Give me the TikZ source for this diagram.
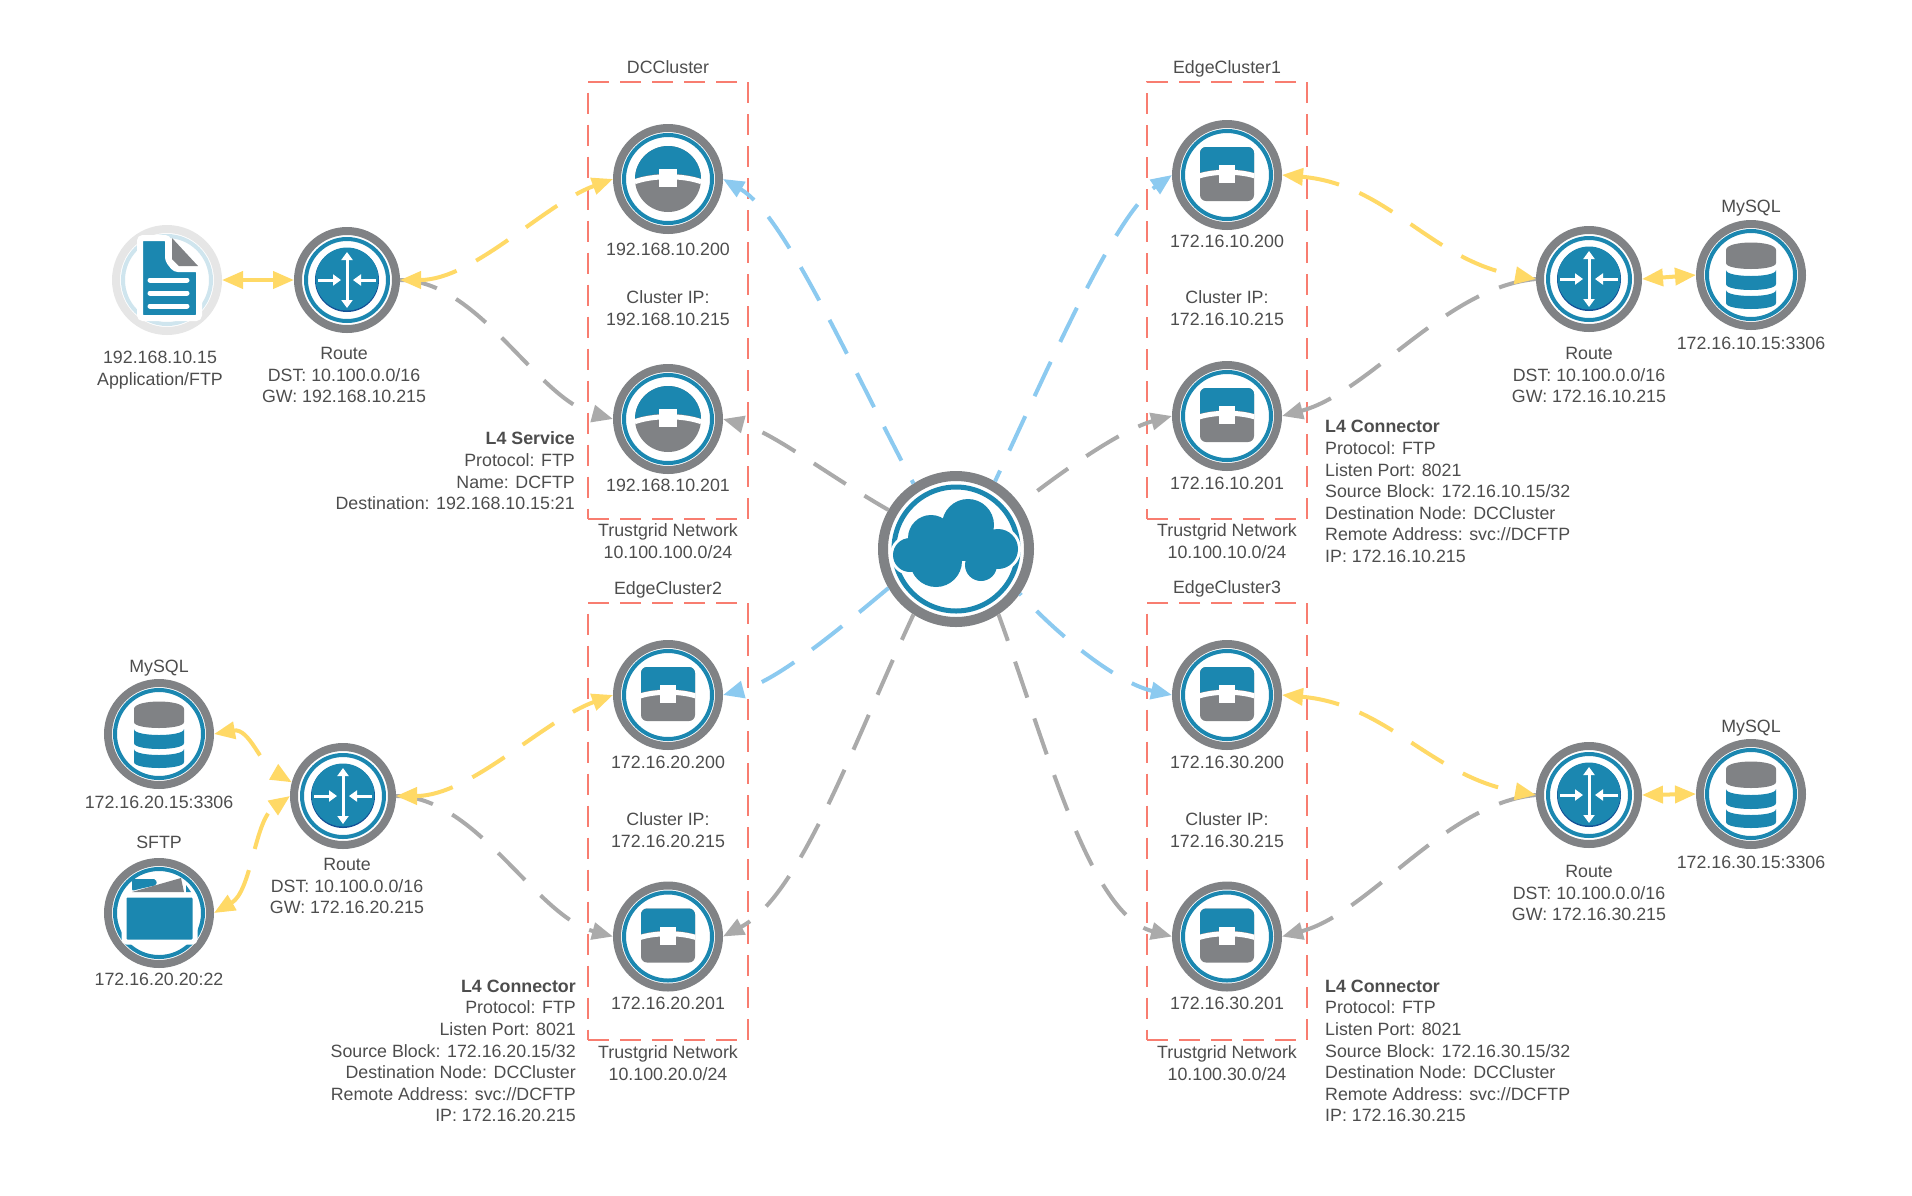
\documentclass[tikz,border=0pt]{standalone}
\usepackage{fontspec}
\setmainfont{Liberation Sans}
\usetikzlibrary{arrows.meta,positioning}
\definecolor{meshTeal}{RGB}{27, 135, 176}
\definecolor{meshNavy}{RGB}{20, 80, 150}
\definecolor{meshRing}{RGB}{128, 130, 133}
\definecolor{meshPale}{RGB}{207, 229, 238}
\definecolor{meshHalo}{RGB}{230, 230, 230}
\definecolor{meshSalmon}{RGB}{248, 125, 112}
\definecolor{meshYellow}{RGB}{255, 217, 102}
\definecolor{meshBlue}{RGB}{140, 202, 240}
\definecolor{meshGrey}{RGB}{170, 170, 170}
\definecolor{meshText}{RGB}{77, 77, 77}
\tikzset{
  dcface/.pic={
    \draw[meshTeal,line width=4pt] (0,0) circle[radius=44];
    \begin{scope}
      \clip (0,0) circle[radius=33];
      \fill[meshRing] (-34,-34) rectangle (34,34);
      \fill[meshTeal] (-34,0) .. controls (-15,-7) and (15,-7) .. (34,0) -- (34,-40) -- (-34,-40) -- cycle;
      \draw[white,line width=5pt] (-34,3) .. controls (-15,-4) and (15,-4) .. (34,3);
    \end{scope}
    \fill[white] (-9,-10) rectangle (9,8);
  },
  edgeface/.pic={
    \draw[meshTeal,line width=4pt] (0,0) circle[radius=44];
    \begin{scope}
      \clip[rounded corners=6pt] (-27,-28) rectangle (27,26);
      \fill[meshRing] (-34,-34) rectangle (34,34);
      \fill[meshTeal] (-28,-2) .. controls (-12,-7) and (12,-7) .. (28,-2) -- (28,-40) -- (-28,-40) -- cycle;
      \draw[white,line width=5pt] (-28,1) .. controls (-12,-4) and (12,-4) .. (28,1);
    \end{scope}
    \fill[white] (-8,-10) rectangle (8,8);
  },
  routeface/.pic={
    \draw[meshTeal,line width=4pt] (0,0) circle[radius=41];
    \fill[meshNavy] (0,0) circle[radius=32];
    \fill[meshTeal] (0,-1) circle[radius=31.5];
    \draw[white,line width=3pt,{Triangle[length=8pt,width=11pt]}-{Triangle[length=8pt,width=11pt]}] (0,-28) -- (0,28);
    \draw[white,line width=3pt,-{Triangle[length=8pt,width=11pt]}] (-29,0) -- (-6,0);
    \draw[white,line width=3pt,-{Triangle[length=8pt,width=11pt]}] (29,0) -- (6,0);
  },
  dbface/.pic={
    \draw[meshTeal,line width=4pt] (0,0) circle[radius=44];
    \fill[meshRing] (-25,-25) .. controls (-25,-35) and (25,-35) .. (25,-25) -- (25,-12) .. controls (25,-4) and (-25,-4) .. (-25,-12) -- cycle;
    \fill[meshTeal] (-25,-5) .. controls (-25,3) and (25,3) .. (25,-5) -- (25,9) .. controls (25,17) and (-25,17) .. (-25,9) -- cycle;
    \fill[meshTeal] (-25,15) .. controls (-25,23) and (25,23) .. (25,15) -- (25,28) .. controls (25,36) and (-25,36) .. (-25,28) -- cycle;
  },
  docface/.pic={
    \draw[meshPale,line width=4pt] (0,0) circle[radius=44];
    \path[draw=white,line width=6pt,fill=meshTeal,rounded corners=3pt] (-27,-42) -- (1,-42) -- (1,-20) -- (8,-11) -- (32,-11) -- (32,38) -- (-27,38) -- cycle;
    \fill[meshRing] (5,-42) -- (31,-14) -- (12,-14) -- (5,-21) -- cycle;
    \draw[white,line width=5pt,line cap=round] (-17,0) -- (20,0) (-17,13) -- (20,13) (-17,26) -- (20,26);
  },
  folderface/.pic={
    \draw[meshTeal,line width=4pt] (0,0) circle[radius=44];
    \path[draw=white,line width=5pt,fill=meshTeal,rounded corners=3pt] (-35,-18) -- (36,-18) -- (36,29) -- (-35,29) -- cycle;
    \fill[meshTeal,rounded corners=2pt] (-27,-34) -- (-3,-34) -- (-2,-28) -- (-20,-24) -- (-27,-22) -- cycle;
    \fill[meshRing] (-27,-21) -- (22,-35) -- (25,-21) -- cycle;
    \fill[meshTeal] (27,-28) -- (32,-21) -- (27,-21) -- cycle;
  },
  cloudface/.pic={
    \draw[meshTeal,line width=5pt] (0,0) circle[radius=62];
    \draw[white,line width=6pt] (12,-24) circle[radius=26] (-25,-11) circle[radius=23] (-46,6) circle[radius=17] (42,0) circle[radius=20] (-20,12) circle[radius=26] (25,16) circle[radius=16];
    \fill[meshTeal] (12,-24) circle[radius=26];
    \fill[meshTeal] (-25,-11) circle[radius=23];
    \fill[meshTeal] (-46,6) circle[radius=17];
    \fill[meshTeal] (42,0) circle[radius=20];
    \fill[meshTeal] (-20,12) circle[radius=26];
    \fill[meshTeal] (25,16) circle[radius=16];
    \fill[meshTeal] (-30,-10) rectangle (35,12);
  }
}

\begin{document}
\begin{tikzpicture}[
  x=1pt,y=-1pt,
  on grid,
  bignode/.style={
    circle,
    draw=meshRing,
    fill=white,
    line width=8pt,
    minimum size=102pt,
    inner sep=0pt
  },
  routernode/.style={bignode,minimum size=98pt},
  clusterbox/.style={
    draw=meshSalmon,
    line width=2pt,
    dash pattern=on 21pt off 11pt,
    minimum width=160pt,
    minimum height=437pt
  },
  caption/.style={
    align=center,
    inner sep=0pt,
    text=meshText,
    font=\fontsize{17.8}{21.6}\selectfont
  },
  notetext/.style={caption,align=left,anchor=west},
  noteright/.style={caption,align=right,anchor=east},
  tipone/.style={-{Triangle[length=21pt,width=17pt]},line width=4pt,dash pattern=on 38pt off 22pt},
  tiptwo/.style={{Triangle[length=21pt,width=17pt]}-{Triangle[length=21pt,width=17pt]},line width=4pt,dash pattern=on 38pt off 22pt},
  yellowlink/.style={tiptwo,meshYellow},
  bluelink/.style={tipone,meshBlue},
  greylink/.style={tipone,meshGrey}
]
  \useasboundingbox (0,0) rectangle (1912,1195);

  \node[bignode,line width=10pt,minimum size=146pt] (cloud) at (956,549) {};
  \node[bignode,above left=370pt and 288pt of cloud] (dcA) {};
  \node[bignode,below=240pt of dcA] (dcB) {};
  \node[bignode,above right=374pt and 271pt of cloud] (ecA) {};
  \node[bignode,below=241pt of ecA] (ecB) {};
  \node[bignode,below left=146pt and 288pt of cloud] (egA) {};
  \node[bignode,below=241.5pt of egA] (egB) {};
  \node[bignode,below right=146pt and 271pt of cloud] (ehA) {};
  \node[bignode,below=241.5pt of ehA] (ehB) {};
  \node[routernode,below left=101pt and 321pt of dcA] (rtA) {};
  \node[bignode,draw=meshHalo,left=180pt of rtA] (appA) {};
  \node[routernode,below right=104pt and 362pt of ecA] (rtB) {};
  \node[bignode,above right=4pt and 162pt of rtB] (dbB) {};
  \node[routernode,below right=100pt and 362pt of ehA] (rtC) {};
  \node[bignode,above right=1pt and 162pt of rtC] (dbC) {};
  \node[routernode,below left=101pt and 325pt of egA] (rtD) {};
  \node[bignode,above left=62pt and 184pt of rtD] (dbD) {};
  \node[bignode,below left=117pt and 184pt of rtD] (ftD) {};

  \pic at (cloud) {cloudface};
  \pic at (dcA) {dcface};
  \pic at (dcB) {dcface};
  \pic at (ecA) {edgeface};
  \pic at (ecB) {edgeface};
  \pic at (egA) {edgeface};
  \pic at (egB) {edgeface};
  \pic at (ehA) {edgeface};
  \pic at (ehB) {edgeface};
  \pic at (rtA) {routeface};
  \pic at (rtB) {routeface};
  \pic at (rtC) {routeface};
  \pic at (rtD) {routeface};
  \pic at (appA) {docface};
  \pic at (dbB) {dbface};
  \pic at (dbC) {dbface};
  \pic at (dbD) {dbface};
  \pic at (ftD) {folderface};

  \node[clusterbox,below=121pt of dcA] (dcBox) {};
  \node[clusterbox,below=125.5pt of ecA] (ecBox) {};
  \node[clusterbox,below=126pt of egA] (egBox) {};
  \node[clusterbox,below=126pt of ehA] (ehBox) {};

  \draw[bluelink,dash phase=34pt] (cloud.123) to[out=118,in=-30,in looseness=.5] (dcA.east);
  \draw[greylink,dash phase=10pt] (cloud.150) to[out=150,in=-15,in looseness=.7] (dcB.east);
  \draw[bluelink,dash phase=26pt] (cloud.60) to[out=65,in=215,in looseness=.5] (ecA.west);
  \draw[greylink,dash phase=38pt] (cloud.35) to[out=38,in=195,in looseness=.7] (ecB.west);
  \draw[bluelink] (cloud.210) to[out=220,in=15,in looseness=.7] (egA.east);
  \draw[greylink,dash phase=10pt] (cloud.237) to[out=245,in=28,in looseness=.6] (egB.east);
  \draw[bluelink,dash phase=36pt] (cloud.-35) to[out=-47,in=168,in looseness=.7] (ehA.west);
  \draw[greylink,dash phase=10pt] (cloud.-57) to[out=-70,in=165,in looseness=.6] (ehB.west);

  \draw[greylink] (rtA.east) to[out=0,in=165,out looseness=.8,in looseness=.8] (dcB.west);
  \draw[yellowlink] (rtA.east) to[out=0,in=200,out looseness=.8,in looseness=.8] (dcA.west);
  \draw[yellowlink,solid] (appA.east) -- (rtA.west);
  \draw[greylink] (rtB.west) to[out=185,in=15,out looseness=.8,in looseness=.8] (ecB.east);
  \draw[yellowlink] (ecA.east) to[out=-5,in=170] (rtB.west);
  \draw[yellowlink,solid] (rtB.east) -- (dbB.west);
  \draw[greylink] (rtC.west) to[out=185,in=15,out looseness=.8,in looseness=.8] (ehB.east);
  \draw[yellowlink] (ehA.east) to[out=-5,in=170] (rtC.west);
  \draw[yellowlink,solid] (rtC.east) -- (dbC.west);
  \draw[greylink] (rtD.east) to[out=0,in=165,out looseness=.8,in looseness=.8] (egB.west);
  \draw[yellowlink] (rtD.east) to[out=0,in=200,out looseness=.8,in looseness=.8] (egA.west);
  \draw[yellowlink] (dbD.east) to[out=10,in=150] (rtD.165);
  \draw[yellowlink] (ftD.east) to[out=30,in=215,looseness=.8] (rtD.west);

  \node[caption,above=112pt of dcA] (dcTitle) {DCCluster};
  \node[caption,below=70pt of dcA] (dcAddrA) {192.168.10.200};
  \node[caption,below=129pt of dcA] (dcIp) {Cluster IP:\\192.168.10.215};
  \node[caption,below=66pt of dcB] (dcAddrB) {192.168.10.201};
  \node[caption,below=122pt of dcB] (dcNet) {Trustgrid Network\\10.100.100.0/24};
  \node[caption,above=106pt of ecA] (ecTitle) {EdgeCluster1};
  \node[caption,below=66pt of ecA] (ecAddrA) {172.16.10.200};
  \node[caption,below=133pt of ecA] (ecIp) {Cluster IP:\\172.16.10.215};
  \node[caption,below=67pt of ecB] (ecAddrB) {172.16.10.201};
  \node[caption,below=125pt of ecB] (ecNet) {Trustgrid Network\\10.100.10.0/24};
  \node[caption,above=105pt of egA] (egTitle) {EdgeCluster2};
  \node[caption,below=67pt of egA] (egAddrA) {172.16.20.200};
  \node[caption,below=135pt of egA] (egIp) {Cluster IP:\\172.16.20.215};
  \node[caption,below=67pt of egB] (egAddrB) {172.16.20.201};
  \node[caption,below=126.5pt of egB] (egNet) {Trustgrid Network\\10.100.20.0/24};
  \node[caption,above=106pt of ehA] (ehTitle) {EdgeCluster3};
  \node[caption,below=67pt of ehA] (ehAddrA) {172.16.30.200};
  \node[caption,below=135pt of ehA] (ehIp) {Cluster IP:\\172.16.30.215};
  \node[caption,below=67pt of ehB] (ehAddrB) {172.16.30.201};
  \node[caption,below=126.5pt of ehB] (ehNet) {Trustgrid Network\\10.100.30.0/24};

  \node[caption,below left=90pt and 7pt of appA] (appText) {192.168.10.15\\Application/FTP};
  \node[caption,below left=95pt and 3pt of rtA] (rtAText) {Route\\DST: 10.100.0.0/16\\GW: 192.168.10.215};
  \node[caption,below=96pt of rtB] (rtBText) {Route\\DST: 10.100.0.0/16\\GW: 172.16.10.215};
  \node[caption,below=98pt of rtC] (rtCText) {Route\\DST: 10.100.0.0/16\\GW: 172.16.30.215};
  \node[caption,below right=90pt and 4pt of rtD] (rtDText) {Route\\DST: 10.100.0.0/16\\GW: 172.16.20.215};
  \node[caption,above=67pt of dbB] (dbBTitle) {MySQL};
  \node[caption,below=68pt of dbB] (dbBText) {172.16.10.15:3306};
  \node[caption,above=66pt of dbC] (dbCTitle) {MySQL};
  \node[caption,below=68pt of dbC] (dbCText) {172.16.30.15:3306};
  \node[caption,above=66pt of dbD] (dbDTitle) {MySQL};
  \node[caption,below=68pt of dbD] (dbDText) {172.16.20.15:3306};
  \node[caption,above=70.5pt of ftD] (ftDTitle) {SFTP};
  \node[caption,below=66pt of ftD] (ftDText) {172.16.20.20:22};

  \node[noteright] (dcNote) at (575,471) {\textbf{L4 Service}\\Protocol: FTP\\Name: DCFTP\\Destination: 192.168.10.15:21};
  \node[notetext] (ecNote) at (1325,491.5) {\textbf{L4 Connector}\\Protocol: FTP\\Listen Port: 8021\\Source Block: 172.16.10.15/32\\Destination Node: DCCluster\\Remote Address: svc://DCFTP\\IP: 172.16.10.215};
  \node[noteright] (egNote) at (576,1051) {\textbf{L4 Connector}\\Protocol: FTP\\Listen Port: 8021\\Source Block: 172.16.20.15/32\\Destination Node: DCCluster\\Remote Address: svc://DCFTP\\IP: 172.16.20.215};
  \node[notetext] (ehNote) at (1325,1051) {\textbf{L4 Connector}\\Protocol: FTP\\Listen Port: 8021\\Source Block: 172.16.30.15/32\\Destination Node: DCCluster\\Remote Address: svc://DCFTP\\IP: 172.16.30.215};
\end{tikzpicture}
\end{document}
